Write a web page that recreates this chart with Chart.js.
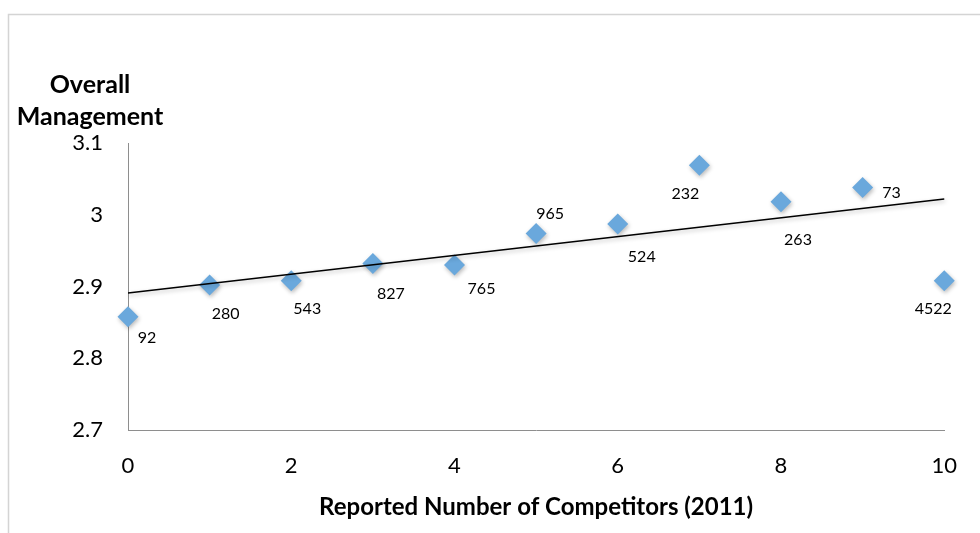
<!DOCTYPE html>
<html>
<head>
<meta charset="utf-8">
<script src="https://cdn.jsdelivr.net/npm/chart.js@4.4.0/dist/chart.umd.min.js"></script>
<style>
  html, body { margin: 0; padding: 0; background: #fff; }
  #wrap { width: 980px; height: 533px; }
</style>
</head>
<body>
<div id="wrap"><canvas id="chart" width="980" height="533"></canvas></div>
<script>
// Data
const competitors = [0, 1, 2, 3, 4, 5, 6, 7, 8, 9, 10];
const management = [2.858, 2.902, 2.908, 2.932, 2.930, 2.974, 2.987, 3.069, 3.018, 3.038, 2.908];
const sampleSizes = ['92', '280', '543', '827', '765', '965', '524', '232', '263', '73', '4522'];
const trendX = [0, 10];
const trendY = [2.891, 3.022];
const yTicks = [2.7, 2.8, 2.9, 3.0, 3.1];
const xTicks = [0, 2, 4, 6, 8, 10];

// label placement relative to each marker (px)
const labelOffsets = [[19, 21], [16, 29], [16, 28], [18, 30], [27, 24], [14, -20],
                      [24, 33], [-14, 29], [17, 38], [29, 5], [-11, 28]];

const FONT = 'Lato, "Open Sans", sans-serif';

// Frame round the chart
const framePlugin = {
    id: 'frame',
    beforeDraw(chart) {
        const c = chart.ctx;
        c.save();
        c.strokeStyle = '#d4d4d4';
        c.lineWidth = 1.5;
        c.strokeRect(8.5, 14.5, 990, 540);
        c.restore();
    }
};

// Y axis title sits above the axis, horizontal, two centred lines
const yTitlePlugin = {
    id: 'yTitle',
    afterDraw(chart) {
        const c = chart.ctx;
        c.save();
        c.fillStyle = '#000';
        c.font = 'bold 25px ' + FONT;
        c.textAlign = 'center';
        c.textBaseline = 'middle';
        c.fillText('Overall', 90, 85);
        c.fillText('Management', 90, 117);
        c.restore();
    }
};

// Sample size labels next to each marker
const pointLabels = {
    id: 'pointLabels',
    afterDatasetsDraw(chart) {
        const meta = chart.getDatasetMeta(1);
        const c = chart.ctx;
        c.save();
        c.fillStyle = '#000';
        c.font = '16px ' + FONT;
        c.textAlign = 'center';
        c.textBaseline = 'middle';
        meta.data.forEach((pt, i) => {
            const off = labelOffsets[i];
            c.fillText(sampleSizes[i], pt.x + off[0], pt.y + off[1]);
        });
        c.restore();
    }
};

// Soft shadow under markers and trendline, like the original
const shadowPlugin = {
    id: 'shadow',
    beforeDatasetDraw(chart, args) {
        const c = chart.ctx;
        c.save();
        c.shadowColor = 'rgba(0,0,0,0.28)';
        c.shadowBlur = 4;
        c.shadowOffsetX = 1;
        c.shadowOffsetY = 2;
    },
    afterDatasetDraw(chart) {
        chart.ctx.restore();
    }
};

const ctx = document.getElementById('chart').getContext('2d');
const chart = new Chart(ctx, {
    type: 'scatter',
    data: {
        datasets: [{
            type: 'line',
            label: 'Trend',
            data: trendX.map((x, i) => ({ x: x, y: trendY[i] })),
            borderColor: '#000',
            borderWidth: 1.4,
            pointRadius: 0,
            fill: false,
            clip: false
        }, {
            label: 'Overall Management',
            data: competitors.map((x, i) => ({ x: x, y: management[i] })),
            pointStyle: 'rectRot',
            pointRadius: 10.5,
            pointHoverRadius: 10.5,
            backgroundColor: '#6aa8dc',
            borderColor: '#6aa8dc',
            borderWidth: 0,
            clip: false
        }]
    },
    options: {
        responsive: false,
        animation: false,
        events: [],
        layout: { padding: { top: 143, right: 32, bottom: 0, left: 0 } },
        plugins: {
            legend: { display: false },
            tooltip: { enabled: false }
        },
        scales: {
            x: {
                type: 'linear',
                min: 0,
                max: 10,
                afterFit: s => { s.height = 103; },
                afterBuildTicks: s => { s.ticks = xTicks.map(v => ({ value: v })); },
                grid: { display: false, drawTicks: false },
                border: { display: true, color: '#8e8e8e', width: 1 },
                ticks: {
                    color: '#000',
                    padding: 23,
                    font: { family: FONT, size: 22 },
                    maxRotation: 0
                },
                title: {
                    display: true,
                    text: 'Reported Number of Competitors (2011)',
                    color: '#000',
                    font: { family: FONT, size: 24, weight: 'bold' },
                    padding: { top: 0, bottom: 11 }
                }
            },
            y: {
                type: 'linear',
                min: 2.7,
                max: 3.1,
                afterFit: s => { s.width = 128; },
                afterBuildTicks: s => { s.ticks = yTicks.map(v => ({ value: v })); },
                grid: { display: false, drawTicks: false },
                border: { display: true, color: '#8e8e8e', width: 1 },
                ticks: {
                    color: '#000',
                    padding: 25,
                    font: { family: FONT, size: 22 },
                    callback: v => String(+v.toFixed(1))
                }
            }
        }
    },
    plugins: [framePlugin, shadowPlugin, pointLabels, yTitlePlugin]
});
</script>
</body>
</html>
